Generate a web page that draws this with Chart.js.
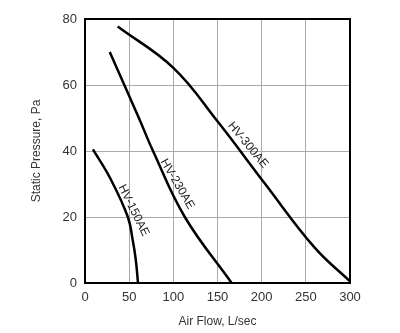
<!DOCTYPE html>
<html>
<head>
<meta charset="utf-8">
<script src="https://cdn.jsdelivr.net/npm/chart.js@4"></script>
<style>
  body { margin: 0; background: #fff; }
  #wrap { width: 400px; height: 333px; }
</style>
</head>
<body>
<div id="wrap"><canvas id="myChart" width="400" height="333"></canvas></div>
<script>
// fan curves
let hv150Flow = [9, 29, 48.5, 54, 57.5, 60];
let hv150Press = [40.5, 31.5, 20, 13, 7, 0];

let hv230Flow = [28, 61, 77, 113, 166];
let hv230Press = [70, 50, 40, 20, 0];

let hv300Flow = [37, 100, 150, 204, 260, 300];
let hv300Press = [77.7, 65.2, 49, 30, 10.7, 0.5];

let seriesNames = ['HV-150AE', 'HV-230AE', 'HV-300AE'];
let xTicks = [0, 50, 100, 150, 200, 250, 300];
let yTicks = [0, 20, 40, 60, 80];

// where the curve names sit (data coords) and their angle
const labelSpots = [
  { x: 55, y: 22, angle: 64 },
  { x: 104.5, y: 30, angle: 59.6 },
  { x: 184.5, y: 41.8, angle: 50.2 }
];

function toPoints(xs, ys) {
  let pts = [];
  for (let i = 0; i < xs.length; i++) {
    pts.push({ x: xs[i], y: ys[i] });
  }
  return pts;
}

const fontFam = '"Liberation Sans", Arial, Helvetica, sans-serif';

const curveLabels = {
  id: 'curveLabels',
  afterDatasetsDraw(chart) {
    const ctx = chart.ctx;
    const xs = chart.scales.x, ys = chart.scales.y;
    ctx.save();
    ctx.font = '12px ' + fontFam;
    ctx.fillStyle = '#222';
    ctx.textAlign = 'center';
    ctx.textBaseline = 'middle';
    for (let i = 0; i < labelSpots.length; i++) {
      const s = labelSpots[i];
      ctx.save();
      ctx.translate(xs.getPixelForValue(s.x), ys.getPixelForValue(s.y));
      ctx.rotate(s.angle * Math.PI / 180);
      ctx.fillText(seriesNames[i], 0, 0);
      ctx.restore();
    }
    ctx.restore();
  }
};

const frame = {
  id: 'frame',
  afterDatasetsDraw(chart) {
    const a = chart.chartArea;
    const ctx = chart.ctx;
    ctx.save();
    ctx.strokeStyle = '#000';
    ctx.lineWidth = 2;
    ctx.strokeRect(a.left, a.top, a.right - a.left, a.bottom - a.top);
    ctx.restore();
  }
};

const lineStyle = {
  borderColor: '#000',
  borderWidth: 2.5,
  pointRadius: 0,
  showLine: true,
  fill: false,
  tension: 0.4
};

const data = {
  datasets: [
    Object.assign({ label: seriesNames[0], data: toPoints(hv150Flow, hv150Press) }, lineStyle),
    Object.assign({ label: seriesNames[1], data: toPoints(hv230Flow, hv230Press) }, lineStyle),
    Object.assign({ label: seriesNames[2], data: toPoints(hv300Flow, hv300Press) }, lineStyle)
  ]
};

const config = {
  type: 'scatter',
  data: data,
  options: {
    responsive: false,
    animation: false,
    layout: { padding: { left: 0, right: 50, top: 19, bottom: 0 } },
    plugins: {
      legend: { display: false },
      tooltip: { enabled: false }
    },
    scales: {
      x: {
        type: 'linear',
        min: 0,
        max: 300,
        afterBuildTicks: (axis) => { axis.ticks = xTicks.map(v => ({ value: v })); },
        afterFit: (axis) => { axis.height = 50; },
        grid: { color: '#aaa', lineWidth: 1, drawTicks: false },
        border: { display: false },
        ticks: { color: '#333', padding: 7, font: { family: fontFam, size: 13 } },
        title: {
          display: true,
          text: 'Air Flow, L/sec',
          color: '#333',
          font: { family: fontFam, size: 12 },
          padding: { top: 0, bottom: 4 }
        }
      },
      y: {
        type: 'linear',
        min: 0,
        max: 80,
        afterBuildTicks: (axis) => { axis.ticks = yTicks.map(v => ({ value: v })); },
        afterFit: (axis) => { axis.width = 85; },
        grid: { color: '#aaa', lineWidth: 1, drawTicks: false },
        border: { display: false },
        ticks: { color: '#333', padding: 8, font: { family: fontFam, size: 13 } },
        title: {
          display: true,
          text: 'Static Pressure, Pa',
          color: '#333',
          font: { family: fontFam, size: 12 },
          padding: { top: 29, bottom: 0 }
        }
      }
    }
  },
  plugins: [frame, curveLabels]
};

const myChart = new Chart(document.getElementById('myChart'), config);
</script>
</body>
</html>
